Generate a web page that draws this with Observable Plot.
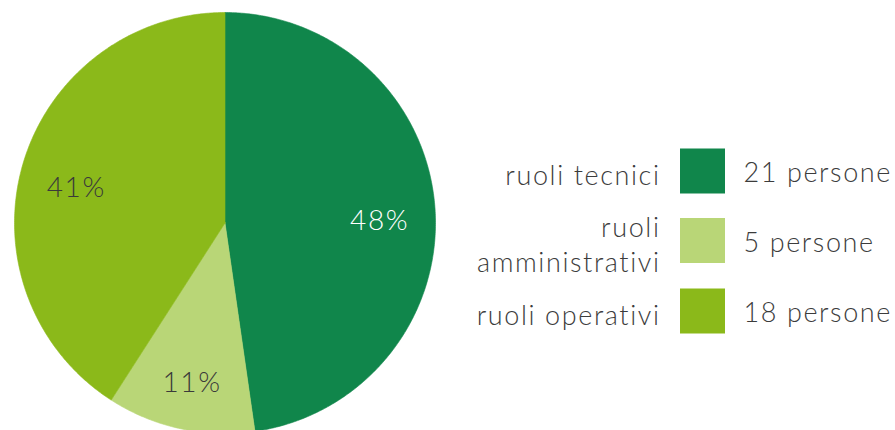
<!DOCTYPE html>
<html>
<head>
<meta charset="utf-8">
<script src="https://cdn.jsdelivr.net/npm/d3@7"></script>
<script src="https://cdn.jsdelivr.net/npm/@observablehq/plot@0.6"></script>
<style>
  html, body { margin: 0; padding: 0; background: #fff; }
  #chart svg { display: block; }
  #chart svg text { letter-spacing: 1.6px; }
</style>
</head>
<body>
<div id="chart"></div>
<script>
// ---- data ----
const categories = ["ruoli tecnici", "ruoli amministrativi", "ruoli operativi"];
const legendLabels = ["ruoli tecnici", "ruoli\namministrativi", "ruoli operativi"];
const counts = [21, 5, 18];
const unitLabel = "persone";

// ---- styles ----
const colors = ["#10864b", "#b9d677", "#8bb91a"];
const pctTextColors = ["#ffffff", "#3a3a3a", "#3a3a3a"];
const FONT = "Lato, 'Open Sans', sans-serif";

// ---- layout ----
const W = 895, H = 430;
const cx = 224.5, cy = 222.5, R = 210.5, labelR = 155;
const rowY = [171, 240.5, 311];
const sqX1 = 680, sqX2 = 725, sq = 45;

const total = d3.sum(counts);
const arcs = d3.pie().sort(null).value(d => d)(counts);

// slice polygons computed from the pie angles
const slicePts = [];
arcs.forEach((a, i) => {
  const cat = categories[i];
  slicePts.push({cat, x: cx, y: cy});
  const n = Math.max(2, Math.ceil((a.endAngle - a.startAngle) / (Math.PI / 360)));
  for (let k = 0; k <= n; k++) {
    const t = a.startAngle + (a.endAngle - a.startAngle) * k / n;
    slicePts.push({cat, x: cx + R * Math.sin(t), y: cy - R * Math.cos(t)});
  }
  slicePts.push({cat, x: cx, y: cy});
});

const pctLabels = arcs.map((a, i) => {
  const m = (a.startAngle + a.endAngle) / 2;
  return {
    cat: categories[i],
    x: cx + labelR * Math.sin(m),
    y: cy - labelR * Math.cos(m),
    text: Math.round(counts[i] / total * 100) + "%",
    color: pctTextColors[i]
  };
});

const legend = categories.map((c, i) => ({
  cat: c,
  label: legendLabels[i],
  value: counts[i] + " " + unitLabel,
  y: rowY[i]
}));

const chart = Plot.plot({
  width: W,
  height: H,
  margin: 0,
  x: {type: "identity", axis: null},
  y: {type: "identity", axis: null},
  color: {domain: categories, range: colors},
  style: {fontFamily: FONT, background: "#fff"},
  marks: [
    Plot.line(slicePts, {x: "x", y: "y", z: "cat", fill: "cat", stroke: "cat", strokeWidth: 0.6, curve: "linear-closed"}),
    Plot.text(pctLabels, {x: "x", y: "y", text: "text", fill: d => d.color, fontSize: 28, fontWeight: 300, dy: 9}),
    Plot.rect(legend, {x1: () => sqX1, x2: () => sqX2, y1: d => d.y - sq / 2, y2: d => d.y + sq / 2, fill: "cat"}),
    Plot.text(legend, {x: () => sqX1 - 20, y: d => d.y + 2, text: "label", textAnchor: "end", lineAnchor: "middle", lineHeight: 1.3, fontSize: 27, fontWeight: 300, fill: "#3c3c3c"}),
    Plot.text(legend, {x: () => sqX2 + 18, y: d => d.y + 2, text: "value", textAnchor: "start", lineAnchor: "middle", fontSize: 27, fontWeight: 300, fill: "#3c3c3c"})
  ]
});

document.getElementById("chart").appendChild(chart);
</script>
</body>
</html>
